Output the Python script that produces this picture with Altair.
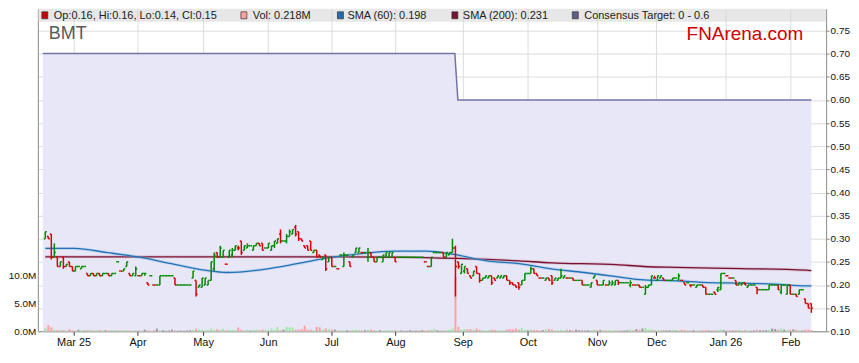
import json
import altair as alt
import pandas as pd

# ---------------- data ----------------
TICKER = "BMT"
SOURCE = "FNArena.com"
LEGEND_LABELS = ["Op:0.16, Hi:0.16, Lo:0.14, Cl:0.15", "Vol: 0.218M", "SMA (60): 0.198",
                 "SMA (200): 0.231", "Consensus Target: 0 - 0.6"]

MONTH_TICKS = [9.4, 30.6, 52.3, 73.9, 94.8, 116.1, 138.4, 160.0, 182.9, 202.6, 225.5, 247.1]
MONTH_LABELS = ["Mar 25", "Apr", "May", "Jun", "Jul", "Aug", "Sep", "Oct", "Nov", "Dec", "Jan 26", "Feb"]
PRICE_TICKS = [0.10, 0.15, 0.20, 0.25, 0.30, 0.35, 0.40, 0.45, 0.50, 0.55, 0.60, 0.65, 0.70, 0.75]
VOLUME_TICKS = [0, 5, 10]

# daily prices in thousandths of a dollar
OPEN = [300,305,310,260,260,240,260,240,250,240,
        230,240,235,240,225,220,225,220,225,220,
        225,225,220,225,250,230,230,240,225,220,
        220,220,220,225,205,220,200,200,200,220,
        220,220,220,215,200,200,200,200,200,215,
        210,195,195,200,200,210,235,270,260,260,
        245,260,265,275,280,295,275,280,285,275,
        285,290,290,280,280,275,285,290,310,295,
        295,305,310,325,315,300,285,285,295,270,
        275,265,255,265,250,260,240,235,265,240,
        265,250,260,270,270,270,270,260,270,260,
        250,260,250,260,260,260,260,260,260,260,
        260,260,260,260,260,260,250,240,240,270,
        270,270,270,260,265,270,280,250,225,230,
        235,220,220,240,225,210,215,215,220,215,
        215,215,215,220,210,205,200,205,200,210,
        225,225,235,225,215,215,210,215,220,210,
        210,215,215,215,215,215,210,210,210,200,
        200,195,215,210,200,200,200,200,200,200,
        210,205,205,205,200,200,200,200,195,180,
        195,200,215,210,215,215,210,210,210,215,
        210,210,205,205,200,200,195,200,200,195,
        180,180,185,190,190,225,220,215,215,210,
        200,200,205,195,200,200,195,190,190,190,
        190,200,200,200,185,200,180,200,180,180,
        180,190,170,160,160]
HIGH = [315,305,310,290,260,250,260,245,250,240,
        240,240,240,240,225,225,225,225,225,225,
        225,225,225,225,250,230,235,250,225,225,
        240,220,225,225,205,220,200,200,220,220,
        220,220,220,215,200,200,200,200,200,230,
        210,200,215,215,210,250,270,270,285,275,
        245,275,280,285,285,295,285,290,285,285,
        290,290,290,280,290,285,295,300,320,295,
        310,320,320,330,315,300,285,285,295,275,
        275,265,260,265,260,260,240,235,265,270,
        265,250,265,280,280,270,270,280,270,260,
        260,260,265,270,270,270,260,260,260,260,
        260,260,260,260,260,260,250,240,260,270,
        270,270,270,270,270,300,285,250,245,240,
        235,220,230,240,225,215,220,220,220,215,
        220,220,220,220,210,205,200,205,210,225,
        225,240,235,225,215,215,215,215,220,215,
        215,235,220,215,215,215,210,210,210,200,
        200,205,220,210,200,210,200,210,210,210,
        210,205,205,205,210,200,200,200,195,200,
        200,220,220,220,220,215,210,210,215,215,
        225,210,205,205,200,200,200,200,200,195,
        180,180,185,195,225,225,220,215,215,210,
        205,205,205,200,200,200,195,190,190,190,
        200,200,200,200,200,200,200,200,180,180,
        190,190,170,160,160]
LOW = [300,300,255,260,240,240,235,240,240,230,
       230,240,235,240,220,220,220,220,220,220,
       225,220,220,225,250,230,230,240,220,220,
       220,220,220,220,200,220,200,200,200,220,
       220,220,220,200,200,200,200,200,200,215,
       175,195,195,200,200,210,230,260,260,260,
       245,260,260,275,275,265,275,280,285,275,
       285,285,275,280,280,275,280,290,290,295,
       290,305,310,305,295,295,280,275,275,270,
       260,260,255,230,250,240,240,235,265,240,
       265,240,260,270,270,270,270,250,260,250,
       250,260,250,260,260,260,250,260,260,260,
       260,260,260,260,260,260,250,240,240,270,
       270,270,260,260,265,270,175,235,225,225,
       225,215,220,225,205,210,215,215,200,210,
       215,215,215,210,200,200,195,190,200,210,
       225,225,225,220,215,215,210,210,200,210,
       210,215,215,215,215,210,210,210,200,200,
       200,195,215,200,200,200,200,200,200,200,
       200,205,205,205,195,200,200,195,195,180,
       195,200,215,210,215,210,210,210,210,215,
       210,210,200,205,195,200,195,200,195,180,
       180,180,180,185,190,225,220,215,215,200,
       200,200,200,195,200,200,180,190,190,190,
       190,200,200,190,180,200,180,180,180,175,
       180,190,160,150,140]
CLOSE = [315,300,260,270,240,250,240,245,240,230,
         240,240,240,240,220,225,220,225,220,225,
         225,220,225,225,250,230,235,250,220,225,
         235,220,225,225,200,220,200,200,220,220,
         220,220,220,200,200,200,200,200,200,230,
         180,200,215,215,210,250,265,260,280,275,
         245,275,275,285,280,270,285,285,285,285,
         290,285,275,280,290,285,295,300,295,295,
         305,315,320,310,300,295,280,275,275,275,
         260,260,260,235,260,240,240,235,265,265,
         265,240,265,280,280,270,270,270,260,250,
         260,260,265,270,270,270,250,260,260,260,
         260,260,260,260,260,260,250,240,260,270,
         270,270,260,270,270,280,240,240,245,240,
         225,215,230,225,210,215,220,220,205,210,
         220,220,220,210,205,200,195,195,210,225,
         225,235,225,220,215,215,215,210,205,215,
         215,220,220,215,215,210,210,210,200,200,
         200,205,220,200,200,210,200,205,205,210,
         205,205,205,205,205,200,200,195,195,195,
         200,220,215,220,220,210,210,210,215,215,
         220,210,200,205,200,200,200,200,195,180,
         180,180,180,195,225,225,220,215,215,200,
         205,205,200,200,200,200,190,190,190,190,
         200,200,200,190,200,200,200,180,180,175,
         190,190,160,150,150]
# daily volume, millions of shares
VOLUME_M = [0.5,1.1,0.7,0.3,0.25,0.3,0.2,0.15,0.4,0.2, 0.15,0.3,0.2,0.15,0.2,0.3,0.15,0.2,0.25,0.15,
            0.2,0.15,0.2,0.1,0.25,0.15,0.2,0.2,0.15,0.1, 0.2,0.15,0.1,0.3,0.15,0.1,0.2,0.5,0.15,0.2,
            0.1,0.15,0.3,0.15,0.1,0.15,0.1,0.15,0.2,0.25, 0.45,0.3,0.3,0.2,0.25,0.45,0.3,0.35,0.25,0.45,
            0.2,0.3,0.25,0.2,0.7,0.3,0.2,0.3,0.15,0.3, 0.3,0.2,0.3,0.25,0.2,0.5,0.3,0.8,0.2,0.3,
            0.8,0.7,0.7,0.3,0.3,0.4,1.0,0.3,0.3,0.2, 0.8,0.7,0.3,0.5,0.4,0.3,0.3,0.15,0.2,0.15,
            0.2,0.15,0.25,0.3,0.2,0.15,0.2,0.25,0.3,0.2, 0.15,0.2,0.1,0.15,0.2,0.15,0.2,0.1,0.15,0.1,
            0.1,0.2,0.1,0.15,0.1,0.2,0.15,0.2,0.3,0.4, 0.2,0.1,0.15,0.2,0.3,0.5,9.8,0.8,0.3,0.4,
            0.35,0.4,0.3,0.5,0.3,0.2,0.15,0.2,0.3,0.25, 0.2,0.15,0.2,0.3,0.4,0.35,0.5,0.3,0.6,0.25,
            0.2,0.3,0.25,0.2,0.15,0.2,0.35,0.4,0.3,0.2, 0.15,0.25,0.2,0.3,0.2,0.15,0.3,0.2,0.25,0.15,
            0.2,0.15,0.3,0.2,0.25,0.2,0.15,0.2,0.15,0.2, 0.15,0.1,0.15,0.2,0.3,0.2,0.4,0.3,0.5,0.6,
            0.3,0.35,0.2,0.15,0.2,0.25,0.15,0.2,0.3,0.15, 0.2,0.3,0.25,0.2,0.15,0.2,0.15,0.1,0.2,0.25,
            0.15,0.1,0.2,0.25,0.3,0.2,0.15,0.2,0.15,0.2, 0.3,0.15,0.2,0.15,0.1,0.15,0.3,0.2,0.15,0.2,
            0.25,0.5,0.4,0.3,0.5,0.3,0.2,0.3,0.35,0.3, 0.2,0.15,0.3,0.35,0.218]

SMA60_AT = [0, 9.7, 20.6, 31.3, 41.9, 52.9, 60.3, 72.6, 83.5, 94.2, 104.8, 115.8, 126.5,
            135.5, 146.5, 157.1, 167.7, 178.7, 189.4, 198.4, 209.4, 220, 230.6, 241.6, 252.3, 254]
SMA60 = [0.279, 0.279, 0.270, 0.260, 0.246, 0.232, 0.227, 0.234, 0.246, 0.259, 0.268, 0.273, 0.273,
         0.266, 0.252, 0.246, 0.235, 0.227, 0.218, 0.211, 0.209, 0.205, 0.204, 0.202, 0.198, 0.198]
SMA200_AT = [0, 60, 100, 126.5, 146.5, 157.1, 167.7, 189.4, 198.4, 209.4, 230.6, 252.3, 254]
SMA200 = [0.261, 0.261, 0.261, 0.259, 0.2555, 0.252, 0.248, 0.244, 0.240, 0.238, 0.2355, 0.232, 0.231]

TARGET_AT = [-0.81, 135.8, 136.8, 254]
TARGET = [0.70, 0.70, 0.60, 0.60]

# ---------------- layout / style ----------------
W, H = 792, 324
X_DOMAIN = [-0.81, 257.25]
P_DOMAIN = [0.10, 0.7968]
V_DOMAIN = [0, 57.86]
FONT = "Liberation Sans"
GREEN, RED = "#008a00", "#d80000"
GRID = "#dcdcdc"
AXC = "#8a8a8a"

n = len(CLOSE)
dirs = []
for k in range(n):
    if CLOSE[k] > OPEN[k]:
        dirs.append("up")
    elif CLOSE[k] < OPEN[k]:
        dirs.append("down")
    else:
        prev = CLOSE[k - 1] if k > 0 else CLOSE[k]
        dirs.append("up" if CLOSE[k] > prev else ("down" if CLOSE[k] < prev else "flat"))

df = pd.DataFrame({
    "i": list(range(n)),
    "il": [k - 0.5 for k in range(n)],
    "ir": [k + 0.5 for k in range(n)],
    "o": [v / 1000 for v in OPEN],
    "h": [v / 1000 for v in HIGH],
    "l": [v / 1000 for v in LOW],
    "c": [v / 1000 for v in CLOSE],
    "v": VOLUME_M,
    "d": dirs,
})
s60 = pd.DataFrame({"i": SMA60_AT, "p": SMA60})
s200 = pd.DataFrame({"i": SMA200_AT, "p": SMA200})
tgt = pd.DataFrame({"i": TARGET_AT, "p": TARGET})

label_expr = "%s[indexof(%s, datum.value)]" % (json.dumps(MONTH_LABELS).replace('"', "'"),
                                                json.dumps(MONTH_TICKS))
xscale = alt.Scale(domain=X_DOMAIN, nice=False, zero=False)
xaxis = alt.Axis(values=MONTH_TICKS, labelExpr=label_expr, title=None, grid=True, gridColor=GRID,
                 domainColor=AXC, tickColor="#333333", tickSize=4, labelPadding=1, labelFontSize=11,
                 labelColor="#111111", labelFlush=False, labelOverlap=False,
                 labelFontWeight={"condition": {"test": "indexof(datum.label, ' ') >= 0", "value": "bold"},
                                  "value": "normal"})
pscale = alt.Scale(domain=P_DOMAIN, nice=False, zero=False)
paxis = alt.Axis(orient="right", values=PRICE_TICKS, format=".2f", title=None, grid=True, gridColor=GRID,
                 domainColor=AXC, tickColor=AXC, tickSize=3, labelPadding=1, labelFontSize=10,
                 labelColor="#111111", labelOverlap=False)
vscale = alt.Scale(domain=V_DOMAIN, nice=False, zero=True)
vaxis = alt.Axis(orient="left", values=VOLUME_TICKS, labelExpr="format(datum.value, '.1f') + 'M'",
                 title=None, grid=False, ticks=False, labelPadding=2, domainColor=AXC, labelFontSize=10,
                 labelColor="#111111")


def X(f):
    return alt.X(f"{f}:Q", scale=xscale, axis=xaxis)


def YP(f, axis=None):
    return alt.Y(f"{f}:Q", scale=pscale, axis=axis)


one = pd.DataFrame({"k": [0]})
band = alt.Chart(one).mark_rect(color="#d4d4d4", opacity=0.55).encode(
    x=alt.value(0), x2=alt.value(W), y=alt.value(0), y2=alt.value(13))

area = alt.Chart(tgt).mark_area(color="#e7e7f7", opacity=1).encode(
    x=X("i"), y=YP("p", paxis), y2=alt.datum(0.10))
tline = alt.Chart(tgt).mark_line(color="#7373a8", strokeWidth=1.5).encode(x=X("i"), y=YP("p", paxis))
price_back = alt.layer(area, tline)

vcolor = (alt.when(alt.datum.d == "up").then(alt.value("#9de89d"))
          .when(alt.datum.d == "down").then(alt.value("#ff9f9f"))
          .otherwise(alt.value("#9a9a9a")))
vol = alt.Chart(df).mark_bar(size=2).encode(
    x=X("i"), y=alt.Y("v:Q", scale=vscale, axis=vaxis), color=vcolor)

pcolor = alt.when(alt.datum.d == "down").then(alt.value(RED)).otherwise(alt.value(GREEN))
base = alt.Chart(df)
hl = base.mark_rule(strokeWidth=1.5).encode(x=X("i"), y=YP("l"), y2="h:Q", color=pcolor)
op = base.mark_rule(strokeWidth=1.5).encode(x=X("il"), x2="i:Q", y=YP("o"), color=pcolor)
cl = base.mark_rule(strokeWidth=1.5).encode(x=X("i"), x2="ir:Q", y=YP("c"), color=pcolor)

s200_halo = alt.Chart(s200).mark_line(color="#c890a4", strokeWidth=3, opacity=0.4, interpolate="monotone").encode(
    x=X("i"), y=YP("p"))
s200_line = alt.Chart(s200).mark_line(color="#7a1232", strokeWidth=1.3, interpolate="monotone").encode(
    x=X("i"), y=YP("p"))
s60_halo = alt.Chart(s60).mark_line(color="#8dbbe2", strokeWidth=3, opacity=0.4, interpolate="monotone").encode(
    x=X("i"), y=YP("p"))
s60_line = alt.Chart(s60).mark_line(color="#2472b4", strokeWidth=1.3, interpolate="monotone").encode(
    x=X("i"), y=YP("p"))
price_front = alt.layer(s200_halo, s200_line, s60_halo, s60_line, hl, op, cl)

texts = []
texts.append(alt.Chart(pd.DataFrame({"t": [TICKER]})).mark_text(
    align="left", baseline="alphabetic", fontSize=18, color="#5a5a5a", font=FONT).encode(
    x=alt.value(11), y=alt.value(30), text="t:N"))
texts.append(alt.Chart(pd.DataFrame({"t": [SOURCE]})).mark_text(
    align="right", baseline="alphabetic", fontSize=19, color="#cc0000", font=FONT).encode(
    x=alt.value(W - 23), y=alt.value(31), text="t:N"))

SW_X = [4, 204, 301, 416, 537]
TX_X = [16, 216, 311, 427, 549]
SW_COL = ["#cc0000", "#ff9f9f", "#1f6db0", "#7a1232", "#5e5e8c"]
for lab, sx, tx, col in zip(LEGEND_LABELS, SW_X, TX_X, SW_COL):
    texts.append(alt.Chart(one).mark_rect(fill=col, stroke="#333333", strokeWidth=0.7).encode(
        x=alt.value(sx), x2=alt.value(sx + 6), y=alt.value(3), y2=alt.value(10)))
    texts.append(alt.Chart(pd.DataFrame({"t": [lab]})).mark_text(
        align="left", baseline="middle", fontSize=11, color="#222222", font=FONT).encode(
        x=alt.value(tx), y=alt.value(7), text="t:N"))

chart = alt.layer(band, price_back, vol, price_front, *texts).resolve_scale(y="independent").properties(
    width=W, height=H,
    padding={"left": 30, "top": 0, "right": 25, "bottom": 20},
    autosize=alt.AutoSizeParams(type="none"),
    background="white",
).configure(font=FONT).configure_view(stroke=None)

chart.save("out.html", embed_options={"renderer": "svg", "actions": False})
